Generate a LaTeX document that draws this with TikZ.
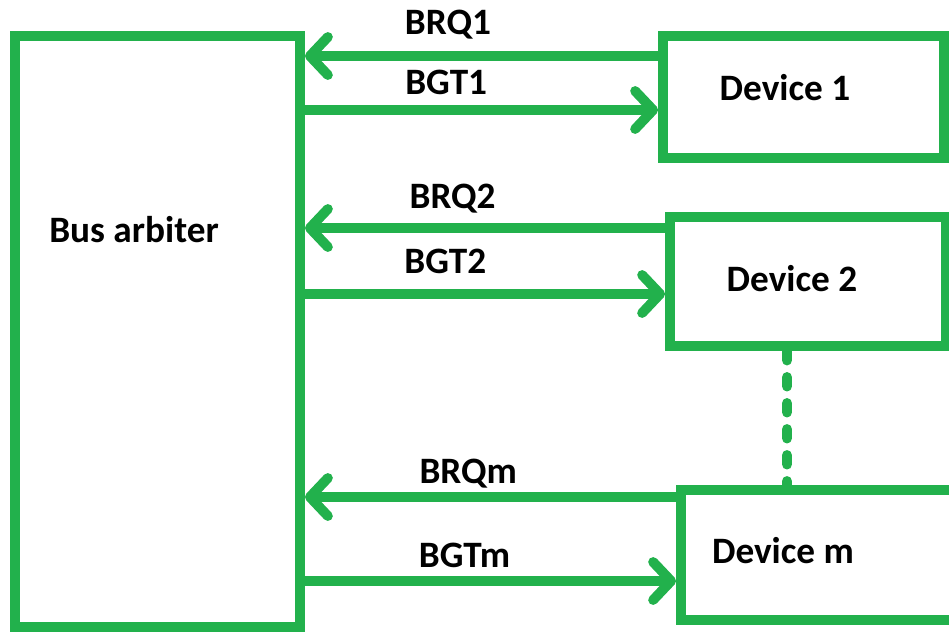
\documentclass[tikz,border=0pt]{standalone}
\usepackage{fontspec}
\setmainfont{Carlito}
\usepackage{tikz}
\usetikzlibrary{arrows.meta}
\definecolor{paintgreen}{RGB}{34,177,76}

\begin{document}
\begin{tikzpicture}[
    x=0.025cm, y=-0.025cm,
    every node/.style={font=\fontsize{26.5}{30}\selectfont\bfseries, text=black},
    box/.style={rectangle, draw=paintgreen, line width=7pt},
    lbl/.style={inner sep=0pt, text depth=0pt, anchor=base},
    arrow/.style={line width=7pt, paintgreen, -{Straight Barb[length=4.5mm, width=9.5mm, round]}},
    dotline/.style={line width=7pt, paintgreen, line cap=round, dash pattern=on 2.4mm off 4.1mm}
]
\useasboundingbox (0,0) rectangle (949,633);

\node[box, minimum width=7.125cm, minimum height=14.775cm] (arbiter) at (157.5,331.5) {};
\node[box, minimum width=7.025cm, minimum height=3.05cm] (dev1) at (803.5,97) {};
\node[box, minimum width=6.9cm, minimum height=3.225cm] (dev2) at (808,281.5) {};
\node[box, minimum width=7.1cm, minimum height=3.25cm] (devm) at (823,555) {};

\node[lbl] (arbtext) at (134,242) {Bus arbiter};
\node[lbl] (dev1text) at (785,100) {Device 1};
\node[lbl] (dev2text) at (792,291) {Device 2};
\node[lbl] (devmtext) at (783,563) {Device m};

\draw[arrow] (dev1.west |- 0,56) -- node[lbl, pos=0.595, yshift=0.525cm]{BRQ1} (arbiter.east |- 0,56);
\draw[arrow] (arbiter.east |- 0,110) -- node[lbl, pos=0.40, yshift=0.4cm]{BGT1} (dev1.west |- 0,110);
\draw[arrow] (dev2.west |- 0,228) -- node[lbl, pos=0.59, yshift=0.5cm]{BRQ2} (arbiter.east |- 0,228);
\draw[arrow] (arbiter.east |- 0,294) -- node[lbl, pos=0.39, yshift=0.525cm]{BGT2} (dev2.west |- 0,294);
\draw[arrow] (devm.west |- 0,497) -- node[lbl, pos=0.56, yshift=0.35cm]{BRQm} (arbiter.east |- 0,497);
\draw[arrow] (arbiter.east |- 0,581) -- node[lbl, pos=0.43, yshift=0.35cm]{BGTm} (devm.west |- 0,581);

% dashed link between the device boxes
\draw[dotline] ([xshift=-0.525cm]dev2.south) -- ([xshift=-0.9cm]devm.north);
\end{tikzpicture}
\end{document}
